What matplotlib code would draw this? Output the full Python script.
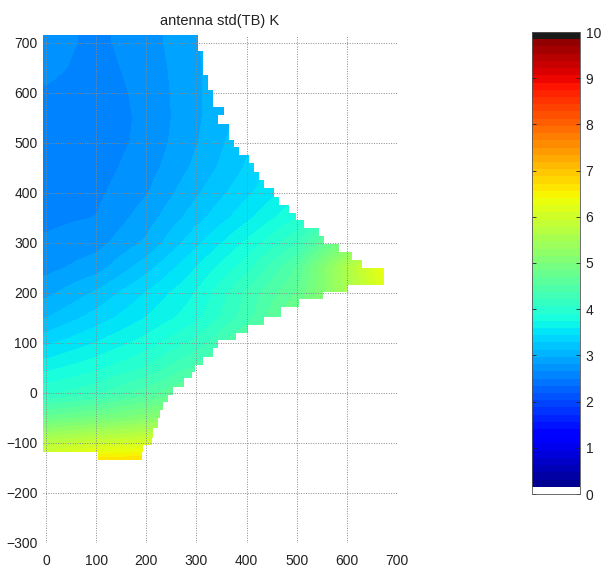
import numpy as np
import matplotlib
matplotlib.use("Agg")
import matplotlib.pyplot as plt
from matplotlib.colors import ListedColormap, Normalize
from matplotlib.patches import Polygon
import matplotlib.cm as cm

plt.rcParams['font.family'] = ['Liberation Sans', 'DejaVu Sans']

# ---------------- data ----------------
title = "antenna std(TB) K"
x_nodes = [0, 100, 200, 300, 400, 500, 600, 700]
y_nodes = [700, 650, 600, 550, 500, 450, 400, 350, 300, 250, 200, 150, 100, 50, 0, -50, -100, -150]
std_values = [
    [2.72, 2.62, 2.74, 2.96, 3.20, 3.50, 3.80, 4.10],
    [2.70, 2.60, 2.72, 2.94, 3.20, 3.50, 3.80, 4.10],
    [2.64, 2.58, 2.70, 2.94, 3.20, 3.50, 3.80, 4.10],
    [2.60, 2.57, 2.69, 2.94, 3.20, 3.50, 3.80, 4.10],
    [2.60, 2.57, 2.70, 2.96, 3.25, 3.55, 3.90, 4.20],
    [2.60, 2.59, 2.74, 3.01, 3.30, 3.60, 4.00, 4.40],
    [2.60, 2.62, 2.80, 3.10, 3.40, 3.70, 4.20, 4.70],
    [2.62, 2.66, 2.89, 3.22, 3.55, 3.90, 4.50, 5.10],
    [2.68, 2.75, 3.00, 3.40, 3.78, 4.20, 5.00, 5.80],
    [2.76, 2.90, 3.22, 3.60, 4.00, 4.55, 5.60, 6.60],
    [2.92, 3.15, 3.45, 3.76, 4.25, 4.70, 5.50, 6.40],
    [3.12, 3.35, 3.60, 3.86, 4.30, 4.90, 5.50, 6.10],
    [3.40, 3.60, 3.82, 4.12, 4.60, 5.10, 5.60, 6.10],
    [3.70, 3.86, 4.08, 4.42, 4.80, 5.20, 5.60, 6.00],
    [4.02, 4.18, 4.45, 4.80, 5.10, 5.40, 5.70, 6.00],
    [4.75, 4.90, 5.10, 5.30, 5.50, 5.70, 5.90, 6.10],
    [5.70, 5.90, 6.05, 6.20, 6.30, 6.40, 6.50, 6.60],
    [6.20, 7.00, 7.00, 6.90, 6.80, 6.80, 6.80, 6.80],
]
# coverage outline: row edges (top-down) and left/right extent of each row
row_edges = [716, 684, 636, 606, 572, 556, 538, 506, 492, 476, 460, 442, 426, 410,
             392, 376, 360, 346, 330, 314, 298, 282, 266, 250, 216, 202, 188, 172,
             152, 136, 120, 106, 90, 72, 56, 42, 30, 12, -4, -18, -34, -50, -70,
             -90, -104, -118, -134]
row_right = [304, 314, 324, 334, 354, 344, 364, 374, 384, 404, 414, 424, 434, 454,
             464, 484, 498, 514, 544, 554, 584, 610, 630, 674, 602, 552, 504, 468,
             434, 402, 378, 344, 334, 314, 298, 292, 276, 254, 244, 234, 228, 224,
             214, 212, 194, 192]
row_left = [-10] * 45 + [104]
x_ticks = [0, 100, 200, 300, 400, 500, 600, 700]
y_ticks = [-300, -200, -100, 0, 100, 200, 300, 400, 500, 600, 700]
cbar_ticks = [0, 1, 2, 3, 4, 5, 6, 7, 8, 9, 10]

# ---------------- colormap (MATLAB-like jet 64, white bottom, black top) ----------------
jet = plt.get_cmap('jet', 64)(np.linspace(0, 1, 64))
jet[0] = [1, 1, 1, 1]
jet[-1] = [0.1, 0.1, 0.1, 1]
cmap = ListedColormap(jet)
norm = Normalize(0, 10)

W, H = 607, 570
fig = plt.figure(figsize=(W / 100, H / 100), dpi=100)
ax = fig.add_axes([43 / W, 1 - 543 / H, 354 / W, 508 / H])

dx = x_nodes[1] - x_nodes[0]
dy = y_nodes[0] - y_nodes[1]
extent = (x_nodes[0] - dx / 2, x_nodes[-1] + dx / 2,
          y_nodes[-1] - dy / 2, y_nodes[0] + dy / 2)
im = ax.imshow(np.array(std_values), cmap=cmap, norm=norm, extent=extent,
               origin='upper', interpolation='bilinear', interpolation_stage='data',
               aspect='auto', zorder=1)

# outline polygon
pts = []
for i in range(len(row_right)):
    pts.append((row_right[i], row_edges[i]))
    pts.append((row_right[i], row_edges[i + 1]))
for i in range(len(row_left) - 1, -1, -1):
    pts.append((row_left[i], row_edges[i + 1]))
    pts.append((row_left[i], row_edges[i]))
clip = Polygon(pts, closed=True, transform=ax.transData)
im.set_clip_path(clip)

ax.set_xlim(-6, 700)
ax.set_ylim(-300, 716)
ax.set_xticks(x_ticks)
ax.set_yticks(y_ticks)
for s in ax.spines.values():
    s.set_visible(False)
ax.tick_params(length=0, labelsize=10, colors='#222222')
ax.tick_params(axis='x', pad=8)
ax.tick_params(axis='y', pad=4)
ax.grid(True, color='#8a8a8a', linestyle=(0, (1, 1.5)), linewidth=0.7)
ax.set_axisbelow(False)
ax.set_title(title, fontsize=10.5, pad=7, color='#222222')

# colorbar
cax = fig.add_axes([532 / W, 1 - 494 / H, 48 / W, 462 / H])
sm = cm.ScalarMappable(norm=norm, cmap=cmap)
cb = fig.colorbar(sm, cax=cax, ticks=cbar_ticks)
cb.outline.set_linewidth(0.6)
cb.outline.set_edgecolor('#555555')
cax.tick_params(direction='in', length=3, width=0.6, left=True, right=True,
                labelleft=False, labelright=True, labelsize=10, colors='#222222', pad=4)

fig.savefig('out.png', dpi=100, facecolor='white')
